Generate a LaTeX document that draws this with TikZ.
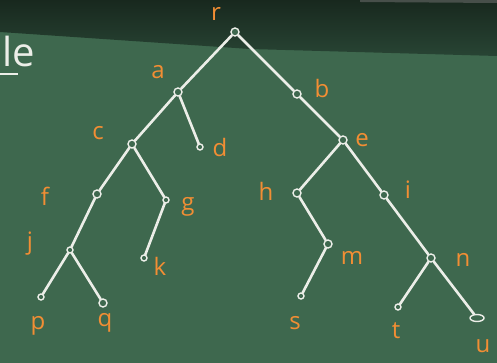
\documentclass[tikz,border=0pt]{standalone}
\usepackage{fontspec}
\usetikzlibrary{shapes.geometric}
\setmainfont{Open Sans}
\definecolor{board}{RGB}{62,104,78}
\definecolor{boarddark}{RGB}{24,40,30}
\definecolor{bandlow}{RGB}{40,68,52}
\definecolor{chalk}{RGB}{236,238,232}
\definecolor{orangechalk}{RGB}{242,142,52}
\begin{document}
\begin{tikzpicture}[x=1pt,y=-1pt,
  vert/.style={circle,draw=chalk,fill=board,line width=1.4pt,minimum size=8pt,inner sep=0pt},
  leaf/.style={circle,draw=chalk,fill=board,line width=1.4pt,minimum size=6pt,inner sep=0pt},
  lbl/.style={text=orangechalk,font=\fontsize{24}{24}\selectfont,inner sep=0pt},
  edge/.style={draw=chalk,line width=2.6pt,line cap=round}]
\useasboundingbox (0,0) rectangle (497,363);
\fill[board] (0,0) rectangle (497,363);
\shade[top color=boarddark,bottom color=bandlow] (0,0) -- (497,0) -- (497,56) -- (250,49) -- (0,32) -- cycle;
\fill[gray!45!boarddark] (360,0) -- (497,0) -- (497,3) -- (360,2) -- cycle;
% title fragment
\node[text=chalk,font=\fontsize{40}{40}\selectfont,inner sep=0pt,anchor=base west] (title) at (2,67) {le};
\draw[chalk,line width=2.4pt] (0,74) -- (18,74);
% vertices
\node[vert] (r) at (235,32) {};
\node[vert] (a) at (178,92) {};
\node[vert] (b) at (297,94) {};
\node[vert] (c) at (132,144) {};
\node[leaf] (d) at (200,147) {};
\node[vert] (e) at (343,140) {};
\node[vert] (f) at (97,194) {};
\node[leaf] (g) at (166,200) {};
\node[vert] (h) at (297,193) {};
\node[vert] (i) at (384,195) {};
\node[leaf] (j) at (70,250) {};
\node[leaf] (k) at (144,258) {};
\node[vert] (m) at (328,244) {};
\node[vert] (n) at (431,258) {};
\node[leaf] (p) at (41,297) {};
\node[vert] (q) at (103,303) {};
\node[leaf] (s) at (301,296) {};
\node[leaf] (t) at (398,307) {};
\node[ellipse,draw=chalk,fill=board,line width=1.4pt,minimum width=14pt,minimum height=7pt,inner sep=0pt] (u) at (477,318) {};
% edges
\foreach \x/\y in {r/a,r/b,a/c,a/d,c/f,c/g,f/j,g/k,j/p,j/q,b/e,e/h,e/i,h/m,m/s,i/n,n/t,n/u}
  \draw[edge] (\x) -- (\y);
% labels
\node[lbl] (lr) at (216,14) {r};
\node[lbl] (la) at (158,72) {a};
\node[lbl] (lb) at (322,89) {b};
\node[lbl] (lc) at (98,133) {c};
\node[lbl] (ld) at (220,148) {d};
\node[lbl] (le) at (362,140) {e};
\node[lbl] (lf) at (45,196) {f};
\node[lbl] (lg) at (188,207) {g};
\node[lbl] (lh) at (266,191) {h};
\node[lbl] (li) at (408,190) {i};
\node[lbl] (lj) at (30,244) {j};
\node[lbl] (lk) at (160,266) {k};
\node[lbl] (lm) at (352,258) {m};
\node[lbl] (ln) at (463,260) {n};
\node[lbl] (lp) at (38,326) {p};
\node[lbl] (lq) at (105,323) {q};
\node[lbl] (ls) at (295,323) {s};
\node[lbl] (lt) at (396,331) {t};
\node[lbl] (lu) at (483,346) {u};
\end{tikzpicture}
\end{document}
